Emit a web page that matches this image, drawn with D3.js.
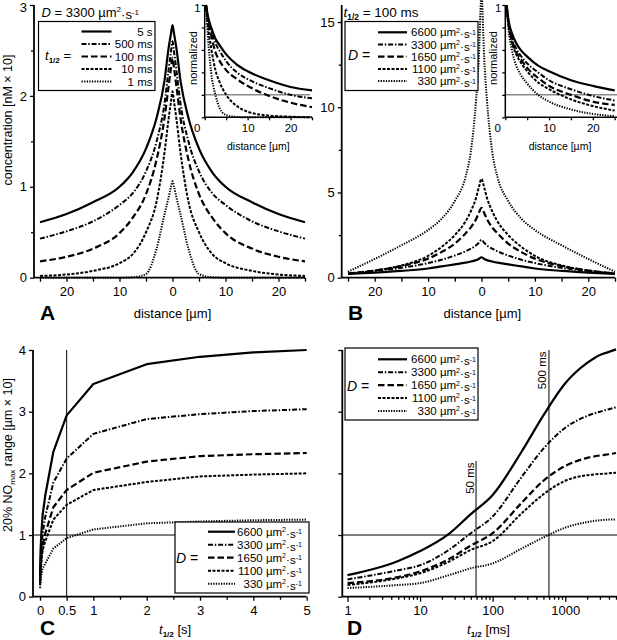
<!DOCTYPE html>
<html><head><meta charset="utf-8">
<script src="https://cdn.jsdelivr.net/npm/d3@7"></script>
<style>body{margin:0;background:#fff}svg{display:block}</style>
</head><body><script>
// ---------------- DATA ----------------
// Panel A: D = 3300, concentration profiles (half-profile, mirrored about 0)
const distA = [0, 0.3, 0.75, 1.5, 3, 5, 7.5, 10, 15, 20, 25];
const halfLivesA = ["5 s", "500 ms", "100 ms", "10 ms", "1 ms"];
const concA_5s    = [2.78, 2.68, 2.52, 2.17, 1.76, 1.42, 1.16, 1.00, 0.83, 0.70, 0.61];
const concA_500ms = [2.60, 2.48, 2.28, 1.92, 1.50, 1.17, 0.93, 0.80, 0.62, 0.51, 0.43];
const concA_100ms = [2.42, 2.30, 2.10, 1.76, 1.30, 0.92, 0.66, 0.49, 0.32, 0.23, 0.18];
const concA_10ms  = [2.05, 1.93, 1.74, 1.38, 0.84, 0.50, 0.26, 0.16, 0.075, 0.035, 0.02];
const concA_1ms   = [1.06, 1.00, 0.88, 0.70, 0.32, 0.04, 0.005, 0, 0, 0, 0];

// Panel B: t1/2 = 100 ms, different D
const distB = [0, 0.5, 1, 2, 3, 5, 7.5, 10, 15, 20, 25];
const diffCoefs = ["6600", "3300", "1650", "1100", "330"];
const concB_6600 = [1.20, 1.10, 1.03, 0.95, 0.88, 0.78, 0.66, 0.54, 0.40, 0.30, 0.22];
const concB_3300 = [2.22, 2.05, 1.90, 1.70, 1.55, 1.30, 1.05, 0.86, 0.58, 0.40, 0.25];
const concB_1650 = [4.10, 3.80, 3.45, 2.95, 2.60, 2.00, 1.50, 1.12, 0.68, 0.42, 0.24];
const concB_1100 = [5.80, 5.30, 4.70, 3.90, 3.30, 2.50, 1.80, 1.28, 0.72, 0.42, 0.22];
const concB_330  = [16.6, 12.9, 10.5, 7.4, 5.9, 4.5, 3.45, 2.8, 1.9, 1.1, 0.35];

// Insets: normalized profiles
const distInset = [0.3, 0.75, 1.5, 2.5, 3.5, 5, 7.5, 10, 15, 20, 25];
const normA_5s    = [1, 0.90, 0.80, 0.70, 0.64, 0.56, 0.47, 0.41, 0.33, 0.27, 0.24];
const normA_500ms = [1, 0.89, 0.77, 0.66, 0.59, 0.50, 0.40, 0.34, 0.26, 0.20, 0.17];
const normA_100ms = [1, 0.87, 0.73, 0.58, 0.50, 0.42, 0.34, 0.28, 0.19, 0.13, 0.09];
const normA_10ms  = [1, 0.82, 0.62, 0.42, 0.31, 0.20, 0.10, 0.05, 0.015, 0.005, 0];
const normA_1ms   = [1, 0.72, 0.40, 0.20, 0.08, 0.02, 0.003, 0, 0, 0, 0];
const normB_6600 = [1, 0.86, 0.75, 0.66, 0.60, 0.54, 0.46, 0.41, 0.33, 0.28, 0.24];
const normB_3300 = [1, 0.84, 0.71, 0.61, 0.55, 0.48, 0.40, 0.33, 0.25, 0.19, 0.15];
const normB_1650 = [1, 0.83, 0.69, 0.58, 0.52, 0.44, 0.35, 0.28, 0.20, 0.14, 0.11];
const normB_1100 = [1, 0.82, 0.67, 0.56, 0.49, 0.41, 0.31, 0.25, 0.16, 0.10, 0.06];
const normB_330  = [1, 0.78, 0.60, 0.46, 0.38, 0.30, 0.20, 0.14, 0.07, 0.03, 0.01];

// Panels C/D: 20% NOmax range vs t1/2
const tHalfMs = [1, 5, 10, 25, 50, 100, 250, 500, 1000, 2000, 3000, 4000, 5000];
const rangeC_6600 = [0.34, 0.58, 0.73, 1.02, 1.33, 1.65, 2.35, 2.94, 3.45, 3.77, 3.89, 3.96, 4.00];
const rangeC_3300 = [0.27, 0.43, 0.51, 0.76, 1.02, 1.30, 1.85, 2.24, 2.64, 2.88, 2.96, 3.01, 3.04];
const rangeC_1650 = [0.22, 0.32, 0.41, 0.61, 0.83, 1.03, 1.45, 1.73, 2.01, 2.19, 2.28, 2.31, 2.33];
const rangeC_1100 = [0.19, 0.30, 0.38, 0.57, 0.76, 0.90, 1.25, 1.49, 1.73, 1.86, 1.95, 1.98, 2.00];
const rangeC_330  = [0.14, 0.19, 0.22, 0.35, 0.46, 0.54, 0.78, 0.95, 1.09, 1.19, 1.22, 1.24, 1.25];
const rangeD_6600 = [0.35, 0.58, 0.74, 1.02, 1.34, 1.65, 2.35, 2.94, 3.46, 3.79, 3.92, 3.97, 4.01];
const rangeD_3300 = [0.28, 0.43, 0.51, 0.76, 1.03, 1.30, 1.94, 2.40, 2.74, 2.93, 3.00, 3.04, 3.07];
const rangeD_1650 = [0.22, 0.32, 0.41, 0.61, 0.83, 1.03, 1.52, 1.88, 2.12, 2.25, 2.29, 2.31, 2.33];
const rangeD_1100 = [0.19, 0.30, 0.38, 0.57, 0.76, 0.90, 1.35, 1.66, 1.88, 1.97, 1.99, 2.00, 2.01];
const rangeD_330  = [0.14, 0.19, 0.22, 0.35, 0.46, 0.54, 0.78, 0.96, 1.12, 1.21, 1.24, 1.25, 1.25];

const ticksCs = [0, 0.5, 1, 2, 3, 4, 5];
const ticksDms = [1, 10, 100, 1000];
const refC = {t: 0.5, y: 1};
const refDms = [59, 596];
const refDTop = [2.2, 4.0];
const refDLabels = ["50 ms", "500 ms"];

// ---------------- SETUP ----------------
const FONT = '"Liberation Sans", Arial, Helvetica, sans-serif';
const styles = [
  {dash: null, w: 2.2},
  {dash: "5,1.8,1.5,1.8", w: 2},
  {dash: "6.5,3", w: 2.2},
  {dash: "3,1.5", w: 2},
  {dash: "1.3,1.3", w: 2}
];
const svg = d3.select("body").append("svg").attr("width", 617).attr("height", 640)
  .attr("font-family", FONT);

function styleAxis(g, fs) {
  g.attr("font-family", FONT).attr("font-size", fs);
  g.select(".domain").remove();
  g.selectAll("line").attr("stroke", "#000").attr("stroke-width", 1.3);
  g.selectAll("text").attr("fill", "#000");
}
function hline(x1, x2, y, w, col) {
  svg.append("line").attr("x1", x1).attr("x2", x2).attr("y1", y).attr("y2", y)
    .attr("stroke", col || "#000").attr("stroke-width", w);
}
function vline(x, y1, y2, w, col) {
  svg.append("line").attr("x1", x).attr("x2", x).attr("y1", y1).attr("y2", y2)
    .attr("stroke", col || "#000").attr("stroke-width", w);
}
function drawPath(pts, x, y, st, curve) {
  const line = d3.line().x(d => x(d[0])).y(d => y(d[1])).curve(curve || d3.curveMonotoneX);
  const p = svg.append("path").attr("d", line(pts)).attr("fill", "none")
    .attr("stroke", "#000").attr("stroke-width", st.w).attr("stroke-linejoin", "round");
  if (st.dash) p.attr("stroke-dasharray", st.dash);
}
function mirrored(dist, vals) {
  const left = dist.map((d, i) => [-d, vals[i]]).reverse();
  const right = dist.slice(1).map((d, i) => [d, vals[i + 1]]);
  return left.concat(right);
}
function unitLabel(t, num) {
  t.append("tspan").text(num + " µm");
  t.append("tspan").attr("font-size", "0.62em").attr("dy", "-0.5em").text("2");
  t.append("tspan").attr("dy", "0.5em").text("·s");
  t.append("tspan").attr("font-size", "0.62em").attr("dy", "-0.5em").text("-1");
}
function tHalf(t, fs) {
  t.append("tspan").attr("font-style", "italic").text("t");
  t.append("tspan").attr("font-size", fs * 0.62).attr("font-weight", "bold").attr("dy", fs * 0.25).text("1/2");
  return t;
}
function legend(o) {
  svg.append("rect").attr("x", o.x).attr("y", o.y).attr("width", o.w).attr("height", o.h)
    .attr("fill", "#fff").attr("stroke", "#000").attr("stroke-width", 1.2);
  o.labels.forEach((lab, i) => {
    const yy = o.row0 + i * o.dy;
    const st = styles[i];
    const l = svg.append("line").attr("x1", o.sx0).attr("x2", o.sx1).attr("y1", yy).attr("y2", yy)
      .attr("stroke", "#000").attr("stroke-width", st.w);
    if (st.dash) l.attr("stroke-dasharray", st.dash);
    const t = svg.append("text").attr("x", o.lx).attr("y", yy + 4).attr("text-anchor", "end")
      .attr("font-size", 11.5);
    if (o.units) unitLabel(t, lab); else t.text(lab);
  });
}
function labelTitle(x, y, txt) {
  svg.append("text").attr("x", x).attr("y", y).attr("text-anchor", "middle").attr("font-size", 13).text(txt);
}
function panelLetter(x, y, s) {
  svg.append("text").attr("x", x).attr("y", y).attr("font-size", 21).attr("font-weight", "bold").text(s);
}

// ---------------- PANEL A ----------------
const xA = d3.scaleLinear([-25, 25], [40, 305]);
const yA = d3.scaleLinear([0, 3], [277.7, 5]);
svg.append("g").attr("transform", "translate(34,0)")
  .call(d3.axisLeft(yA).tickValues([0, 1, 2, 3]).tickSize(4).tickPadding(3).tickFormat(d3.format("d")))
  .call(g => styleAxis(g, 13))
  .call(g => g.selectAll("text").filter(d => d === 3).attr("y", 2));
svg.append("g").attr("transform", "translate(34,0)")
  .call(d3.axisLeft(yA).tickValues([0.5, 1.5, 2.5]).tickSize(3).tickFormat(""))
  .call(g => styleAxis(g, 13));
svg.append("g").attr("transform", `translate(0,${yA(0)})`)
  .call(d3.axisBottom(xA).tickValues(d3.range(-25, 26, 5)).tickSize(4).tickPadding(5)
    .tickFormat(d => d % 10 === 0 ? Math.abs(d) : ""))
  .call(g => styleAxis(g, 13));
vline(34, yA(3), yA(0), 1.8);
hline(34, xA(25), yA(0), 1.8);
[concA_5s, concA_500ms, concA_100ms, concA_10ms, concA_1ms].forEach((v, i) =>
  drawPath(mirrored(distA, v), xA, yA, styles[i]));
labelTitle(172.5, 318, "distance [µm]");
svg.append("text").attr("transform", "translate(11.5,120) rotate(-90)").attr("text-anchor", "middle")
  .attr("font-size", 12.5).text("concentration [nM × 10]");
panelLetter(40, 320, "A");
{
  const t = svg.append("text").attr("x", 41.5).attr("y", 16.5).attr("font-size", 13);
  t.append("tspan").attr("font-style", "italic").text("D");
  unitLabel(t.append("tspan").text(" = "), "3300");
}
legend({x: 38.5, y: 21.5, w: 116.5, h: 69, row0: 31.5, dy: 12.5, sx0: 81.5, sx1: 111.5, lx: 152.5,
  labels: halfLivesA});
{
  const t = svg.append("text").attr("x", 45).attr("y", 60).attr("font-size", 13);
  tHalf(t, 13);
  t.append("tspan").attr("dy", -13 * 0.25).text(" =");
}

// ---------------- PANEL B ----------------
const xB = d3.scaleLinear([-25, 25], [348, 615]);
const yB = d3.scaleLinear([0, 16], [277.7, 5]);
svg.append("g").attr("transform", "translate(341.7,0)")
  .call(d3.axisLeft(yB).tickValues([0, 5, 10, 15]).tickSize(4).tickPadding(3).tickFormat(d3.format("d")))
  .call(g => styleAxis(g, 13));
svg.append("g").attr("transform", "translate(341.7,0)")
  .call(d3.axisLeft(yB).tickValues([2.5, 7.5, 12.5]).tickSize(3).tickFormat(""))
  .call(g => styleAxis(g, 13));
svg.append("g").attr("transform", `translate(0,${yB(0)})`)
  .call(d3.axisBottom(xB).tickValues(d3.range(-25, 26, 5)).tickSize(4).tickPadding(5)
    .tickFormat(d => d % 10 === 0 ? Math.abs(d) : ""))
  .call(g => styleAxis(g, 13));
vline(341.7, yB(16), yB(0), 1.8);
hline(341.7, xB(25), yB(0), 1.8);
[concB_6600, concB_3300, concB_1650, concB_1100, concB_330].forEach((v, i) =>
  drawPath(mirrored(distB, v), xB, yB, styles[i]));
labelTitle(482.3, 318, "distance [µm]");
panelLetter(348, 320, "B");
{
  const t = svg.append("text").attr("x", 343.5).attr("y", 16.5).attr("font-size", 13.5);
  tHalf(t, 13.5);
  t.append("tspan").attr("dy", -13.5 * 0.25).text(" = 100 ms");
}
legend({x: 345, y: 21.5, w: 133, h: 69, row0: 32.3, dy: 12.2, sx0: 378, sx1: 407, lx: 476,
  labels: diffCoefs, units: true});
svg.append("text").attr("x", 348).attr("y", 60).attr("font-size", 14)
  .call(t => { t.append("tspan").attr("font-style", "italic").text("D"); t.append("tspan").text(" ="); });

// ---------------- INSETS ----------------
function inset(ox, x1, xEnd, series, yTop, yBot) {
  const xI = d3.scaleLinear([0, 25], [ox, x1]);
  const yI = d3.scaleLinear([0, 1], [yBot, yTop]);
  svg.append("g").attr("transform", `translate(${ox},0)`)
    .call(d3.axisLeft(yI).tickValues([0, 0.2, 0.4, 0.6, 0.8, 1]).tickSize(3).tickFormat(d => d === 1 ? "1" : ""))
    .call(g => styleAxis(g, 11.5)).call(g => g.selectAll("text").attr("x", -4).attr("y", 2.5));
  svg.append("g").attr("transform", `translate(0,${yBot})`)
    .call(d3.axisBottom(xI).tickValues([0, 5, 10, 15, 20, 25]).tickSize(3).tickPadding(4)
      .tickFormat(d => (d === 10 || d === 20) ? d : ""))
    .call(g => styleAxis(g, 11.5));
  svg.append("text").attr("x", ox - 7.5).attr("y", yBot + 14.5).attr("text-anchor", "middle")
    .attr("font-size", 11.5).text("0");
  hline(ox, xEnd, yI(0.2), 1.5, "#8a8a8a");
  vline(ox, yTop, yBot, 1.5);
  hline(ox, xEnd, yBot, 1.5);
  series.forEach((v, i) => drawPath(distInset.map((d, j) => [d, v[j]]), xI, yI, styles[i]));
  svg.append("text").attr("x", (ox + xI(25)) / 2).attr("y", yBot + 33).attr("text-anchor", "middle")
    .attr("font-size", 10.5).text("distance [µm]");
  svg.append("text").attr("transform", `translate(${ox - 8},${58}) rotate(-90)`).attr("text-anchor", "middle")
    .attr("font-size", 11).text("normalized");
}
inset(204.7, 312, 310, [normA_5s, normA_500ms, normA_100ms, normA_10ms, normA_1ms], 5, 117.3);
inset(505.3, 614.7, 617, [normB_6600, normB_3300, normB_1650, normB_1100, normB_330], 5, 117.3);

// ---------------- PANEL C ----------------
const xC = d3.scaleLinear([0, 5], [40, 306.7]);
const yC = d3.scaleLinear([0, 4], [596.7, 350]);
const tSec = tHalfMs.map(t => t / 1000);
svg.append("g").attr("transform", "translate(33,0)")
  .call(d3.axisLeft(yC).tickValues([0, 1, 2, 3, 4]).tickSize(4).tickPadding(3).tickFormat(d3.format("d")))
  .call(g => styleAxis(g, 13));
svg.append("g").attr("transform", `translate(0,${yC(0)})`)
  .call(d3.axisBottom(xC).tickValues(ticksCs).tickSize(4).tickPadding(5).tickFormat(d => d))
  .call(g => styleAxis(g, 13));
svg.append("g").attr("transform", `translate(0,${yC(0)})`)
  .call(d3.axisBottom(xC).tickValues([1.5, 2.5, 3.5, 4.5]).tickSize(3).tickFormat(""))
  .call(g => styleAxis(g, 13));
vline(33, yC(4), yC(0), 1.8);
hline(33, xC(5), yC(0), 1.8);
vline(xC(refC.t), yC(4), yC(0), 1);
hline(33, xC(5), yC(refC.y), 1);
[rangeC_6600, rangeC_3300, rangeC_1650, rangeC_1100, rangeC_330].forEach((v, i) =>
  drawPath(tSec.map((t, j) => [t, v[j]]), xC, yC, styles[i], d3.curveLinear));
legend({x: 175, y: 522, w: 134, h: 71, row0: 531.7, dy: 13, sx0: 208, sx1: 235, lx: 302,
  labels: diffCoefs, units: true});
svg.append("text").attr("x", 176).attr("y", 563).attr("font-size", 14)
  .call(t => { t.append("tspan").attr("font-style", "italic").text("D"); t.append("tspan").text(" ="); });
{
  const t = svg.append("text").attr("x", 159).attr("y", 633.5).attr("font-size", 13);
  tHalf(t, 13);
  t.append("tspan").attr("dy", -13 * 0.25).text(" [s]");
}
{
  const t = svg.append("text").attr("transform", "translate(11.5,455) rotate(-90)").attr("text-anchor", "middle")
    .attr("font-size", 12.5);
  t.append("tspan").text("20% NO");
  t.append("tspan").attr("font-size", 8).attr("dy", 3).text("max");
  t.append("tspan").attr("dy", -3).text(" range [µm × 10]");
}
panelLetter(40, 635, "C");

// ---------------- PANEL D ----------------
const xD = d3.scaleLog([1, 5000], [347.5, 616]);
const yD = d3.scaleLinear([0, 4], [596.7, 350]);
const minorD = [];
[1, 10, 100, 1000].forEach(b => { for (let k = 2; k <= 9; k++) if (b * k <= 5000) minorD.push(b * k); });
svg.append("g").attr("transform", "translate(342.3,0)")
  .call(d3.axisLeft(yD).tickValues([0, 1, 2, 3, 4]).tickSize(4).tickFormat(""))
  .call(g => styleAxis(g, 13));
svg.append("g").attr("transform", `translate(0,${yD(0)})`)
  .call(d3.axisBottom(xD).tickValues(ticksDms).tickSize(5).tickPadding(4).tickFormat(d3.format("d")))
  .call(g => styleAxis(g, 13));
svg.append("g").attr("transform", `translate(0,${yD(0)})`)
  .call(d3.axisBottom(xD).tickValues(minorD).tickSize(3).tickFormat(""))
  .call(g => styleAxis(g, 13));
vline(342.3, yD(4), yD(0), 1.8);
hline(342.3, 617, yD(0), 1.8);
hline(342.3, 617, yD(1), 1);
refDms.forEach((ms, i) => {
  vline(xD(ms), yD(refDTop[i]), yD(0), 1);
  svg.append("text").attr("transform", `translate(${xD(ms) - 2.5},${yD(refDTop[i]) + 1.5}) rotate(-90)`)
    .attr("text-anchor", "end").attr("font-size", 11.5).text(refDLabels[i]);
});
[rangeD_6600, rangeD_3300, rangeD_1650, rangeD_1100, rangeD_330].forEach((v, i) =>
  drawPath(tHalfMs.map((t, j) => [t, v[j]]), xD, yD, styles[i], d3.curveMonotoneX));
legend({x: 345, y: 348, w: 133, h: 72, row0: 359.3, dy: 12.9, sx0: 378, sx1: 407, lx: 476,
  labels: diffCoefs, units: true});
svg.append("text").attr("x", 347).attr("y", 390.5).attr("font-size", 14)
  .call(t => { t.append("tspan").attr("font-style", "italic").text("D"); t.append("tspan").text(" ="); });
{
  const t = svg.append("text").attr("x", 467).attr("y", 633.5).attr("font-size", 13);
  tHalf(t, 13);
  t.append("tspan").attr("dy", -13 * 0.25).text(" [ms]");
}
panelLetter(347, 635, "D");
</script></body></html>
